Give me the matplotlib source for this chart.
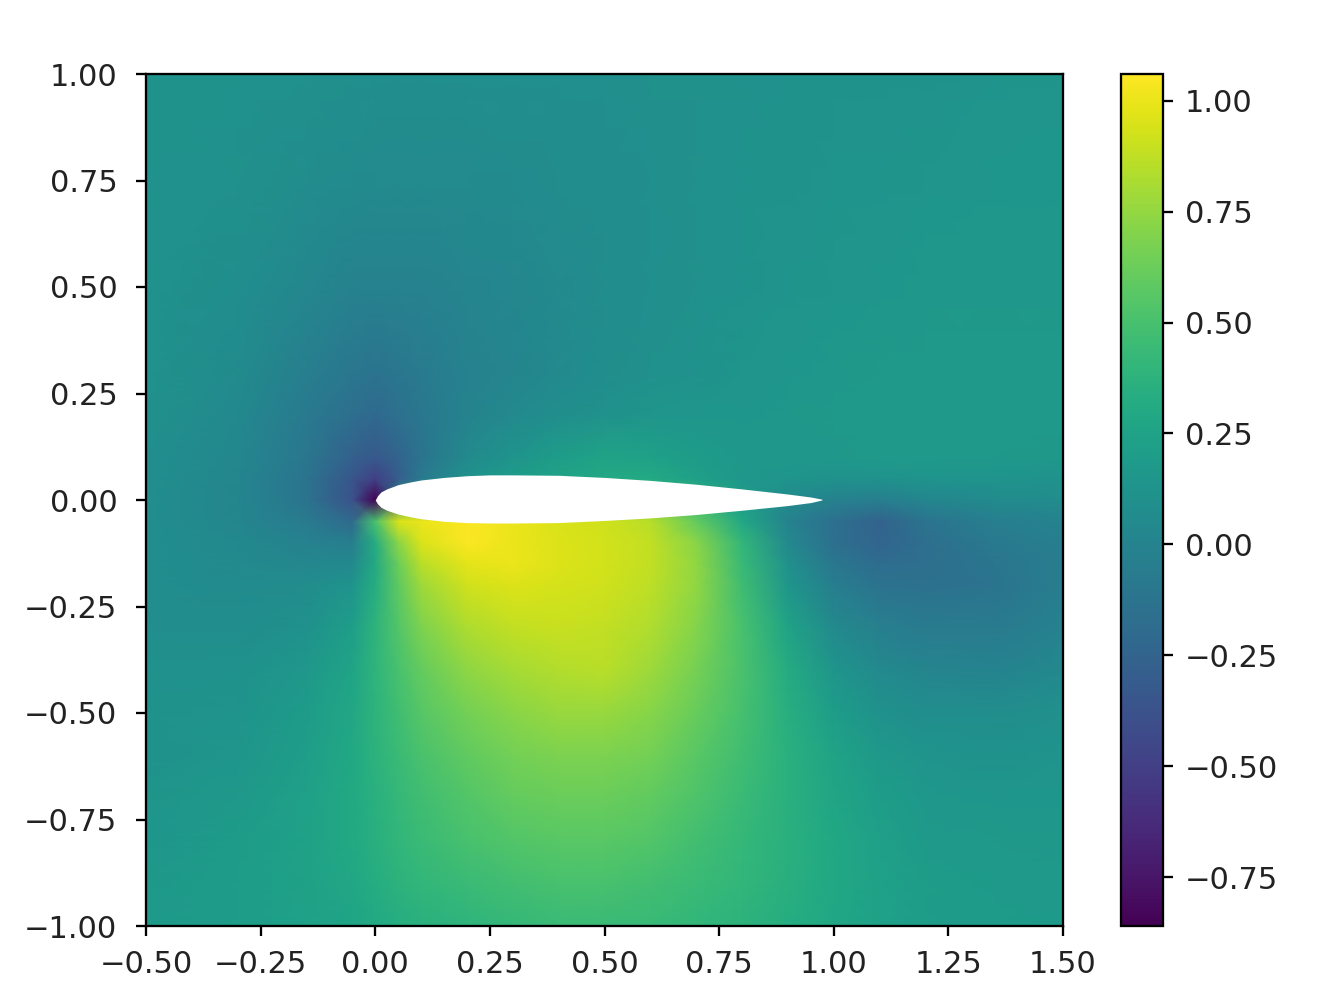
import numpy as np
import matplotlib
matplotlib.use('Agg')
import matplotlib.pyplot as plt

# values, coarse grid (row = y, column = x)
X_NODES = [-0.5, -0.3, -0.15, -0.05, 0.0, 0.05, 0.1, 0.2, 0.3, 0.4, 0.5, 0.6, 0.7, 0.8, 0.9, 1.0, 1.1, 1.2, 1.35, 1.5]
Y_NODES = [1.0, 0.75, 0.5, 0.3, 0.2, 0.1, 0.05, 0.0, -0.05, -0.1, -0.15, -0.2, -0.3, -0.4, -0.5, -0.6, -0.7, -0.8, -0.9, -1.0]
FIELD = [
    [.12, .11, .10, .09, .09, .09, .09, .09, .09, .09, .09, .10, .10, .10, .11, .11, .12, .12, .13, .14],
    [.12, .10, .07, .06, .05, .05, .05, .05, .06, .07, .08, .09, .10, .11, .12, .13, .13, .14, .15, .15],
    [.12, .08, .03, -.01, -.02, -.02, -.01, .01, .03, .05, .07, .09, .10, .12, .13, .14, .15, .16, .16, .16],
    [.11, .06, -.04, -.10, -.12, -.10, -.07, -.02, .01, .05, .08, .10, .12, .14, .15, .16, .17, .17, .17, .17],
    [.10, .04, -.08, -.17, -.20, -.15, -.10, .00, .05, .09, .12, .14, .15, .15, .16, .17, .18, .18, .18, .17],
    [.09, .03, -.10, -.27, -.33, -.25, -.12, .05, .13, .20, .25, .23, .19, .16, .16, .16, .18, .18, .17, .16],
    [.09, .02, -.12, -.35, -.50, -.30, -.08, .12, .20, .25, .30, .30, .22, .16, .14, .12, .12, .13, .13, .12],
    [.08, .02, -.12, -.38, -.86, .10, .40, .60, .60, .60, .60, .55, .40, .20, .05, -.02, -.04, .02, .06, .07],
    [.08, .02, -.07, -.20, .50, .95, 1.00, 1.05, 1.00, .95, .92, .85, .60, .28, .00, -.16, -.26, -.12, -.04, .00],
    [.08, .04, -.01, -.05, .32, .72, .95, 1.05, 1.00, .96, .93, .88, .72, .40, .04, -.16, -.24, -.17, -.08, -.04],
    [.08, .05, .03, .04, .30, .62, .85, .98, 1.00, .96, .93, .88, .74, .43, .10, -.10, -.18, -.17, -.11, -.05],
    [.08, .06, .07, .13, .33, .58, .78, .92, .96, .94, .92, .87, .74, .46, .15, -.05, -.13, -.15, -.12, -.05],
    [.09, .08, .12, .21, .38, .54, .68, .82, .88, .90, .88, .83, .70, .50, .25, .05, -.03, -.07, -.07, -.02],
    [.10, .11, .16, .26, .39, .50, .60, .73, .80, .84, .85, .78, .66, .51, .31, .14, .05, .01, .00, .04],
    [.11, .13, .19, .28, .38, .47, .55, .65, .72, .76, .76, .71, .61, .49, .34, .20, .12, .08, .08, .10],
    [.12, .15, .21, .29, .37, .44, .51, .59, .65, .68, .68, .65, .56, .47, .36, .25, .17, .13, .12, .13],
    [.14, .17, .23, .30, .36, .42, .47, .54, .60, .62, .62, .59, .52, .44, .36, .27, .20, .16, .15, .15],
    [.15, .19, .24, .30, .35, .40, .44, .50, .54, .56, .56, .54, .48, .42, .36, .29, .22, .18, .17, .16],
    [.17, .20, .24, .28, .33, .37, .40, .44, .48, .50, .50, .48, .44, .40, .35, .29, .23, .20, .18, .17],
    [.18, .20, .23, .26, .30, .33, .36, .39, .42, .44, .44, .43, .40, .37, .33, .28, .23, .20, .19, .18],
]
VMIN = -0.86
VMAX = 1.06

# airfoil outline, also
FOIL_X = [0.0, 0.005, 0.0125, 0.025, 0.05, 0.075, 0.1, 0.15, 0.2, 0.25, 0.3, 0.4, 0.5, 0.6, 0.7, 0.8, 0.9, 0.95, 0.974]
FOIL_TOP = [0.0, 0.010, 0.019, 0.026, 0.036, 0.042, 0.047, 0.053, 0.057, 0.059, 0.059, 0.058, 0.053, 0.046, 0.037, 0.026, 0.014, 0.007, 0.002]
FOIL_BOTTOM = [0.0, -0.009, -0.017, -0.024, -0.033, -0.039, -0.044, -0.050, -0.053, -0.054, -0.054, -0.053, -0.048, -0.042, -0.034, -0.024, -0.013, -0.006, 0.0]

X_TICKS = [-0.5, -0.25, 0.0, 0.25, 0.5, 0.75, 1.0, 1.25, 1.5]
Y_TICKS = [-1.0, -0.75, -0.5, -0.25, 0.0, 0.25, 0.5, 0.75, 1.0]
CBAR_TICKS = [-0.75, -0.5, -0.25, 0.0, 0.25, 0.5, 0.75, 1.0]


def tick_text(ticks):
    return ['%.2f' % t if t >= 0 else '\u2212%.2f' % -t for t in ticks]


W, H, DPI = 1323, 999, 207
fig = plt.figure(figsize=(W / DPI, H / DPI), dpi=DPI)
ax = fig.add_axes([146 / W, (H - 926) / H, 917 / W, 852 / H])
cax = fig.add_axes([1121 / W, (H - 926) / H, 42 / W, 852 / H])

mesh = ax.pcolormesh(X_NODES, Y_NODES, np.array(FIELD), shading='gouraud', cmap='viridis', vmin=VMIN, vmax=VMAX)
ax.fill_between(FOIL_X, FOIL_BOTTOM, FOIL_TOP, color='white', linewidth=0)
ax.set_xlim(-0.5, 1.5)
ax.set_ylim(-1, 1)
ax.set_xticks(X_TICKS)
ax.set_yticks(Y_TICKS)
ax.set_xticklabels(tick_text(X_TICKS), fontsize=10.6, color='#222222')
ax.set_yticklabels(tick_text(Y_TICKS), fontsize=10.6, color='#222222')
ax.tick_params(axis='x', pad=5)
ax.tick_params(axis='y', pad=6.5)

cb = fig.colorbar(mesh, cax=cax)
cb.set_ticks(CBAR_TICKS)
cb.set_ticklabels(tick_text(CBAR_TICKS), fontsize=10.6, color='#222222')
cax.tick_params(pad=4)

fig.savefig('out.png', dpi=DPI)
